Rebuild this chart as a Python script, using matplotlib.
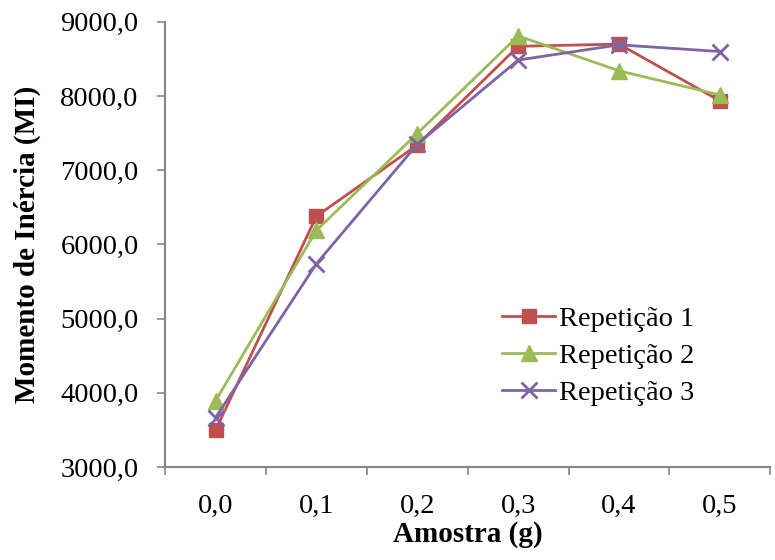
import matplotlib
matplotlib.use("Agg")
import matplotlib.pyplot as plt
import matplotlib.ticker as ticker

# Amostra (g) categories and the three repetitions (Momento de Inércia)
amostra = ["0,0", "0,1", "0,2", "0,3", "0,4", "0,5"]
rep1 = [3495, 6380, 7340, 8670, 8700, 7935]
rep2 = [3890, 6190, 7495, 8810, 8340, 8015]
rep3 = [3665, 5740, 7350, 8485, 8690, 8600]

RED = "#C0504D"
GREEN = "#9BBB59"
PURPLE = "#8064A2"
AXIS = "#868686"

plt.rcParams.update({
    "font.family": ["Liberation Serif", "DejaVu Serif"],
    "font.size": 20.5,
})

fig = plt.figure(figsize=(7.75, 5.6), dpi=100)
ax = fig.add_axes([0.213, 0.166, 0.781, 0.795])

x = list(range(len(amostra)))
ax.plot(x, rep1, "-s", color=RED, lw=2, ms=10, label="Repetição 1")
ax.plot(x, rep2, "-^", color=GREEN, lw=2, ms=11, label="Repetição 2")
ax.plot(x, rep3, "-x", color=PURPLE, lw=2, ms=11, mew=2, label="Repetição 3")

ax.set_xlim(-0.5, len(amostra) - 0.5)
ax.set_ylim(3000, 9000)
ax.yaxis.set_major_locator(ticker.MultipleLocator(1000))
ax.yaxis.set_major_formatter(ticker.FuncFormatter(lambda v, _: f"{v:.1f}".replace(".", ",")))

ax.set_xticks(x)
ax.set_xticklabels(amostra)
ax.set_xticks([i - 0.5 for i in range(len(amostra) + 1)], minor=True)
ax.tick_params(axis="x", which="major", length=0, pad=19)
ax.tick_params(axis="x", which="minor", length=6, width=1.2, color=AXIS, direction="out")
ax.tick_params(axis="y", length=6, width=1.2, color=AXIS, direction="out", pad=13)

for s in ["top", "right"]:
    ax.spines[s].set_visible(False)
for s in ["left", "bottom"]:
    ax.spines[s].set_color(AXIS)
    ax.spines[s].set_linewidth(1.5)

ax.set_xlabel("Amostra (g)", fontsize=21, fontweight="bold", labelpad=2)
ax.set_ylabel("Momento de Inércia (MI)", fontsize=21, fontweight="bold", labelpad=14)

ax.legend(loc="upper left", bbox_to_anchor=(0.557, 0.362), frameon=False,
          handlelength=1.86, handletextpad=0.14, labelspacing=0.4, borderpad=0,
          borderaxespad=0)

fig.savefig("out.png", dpi=100)
